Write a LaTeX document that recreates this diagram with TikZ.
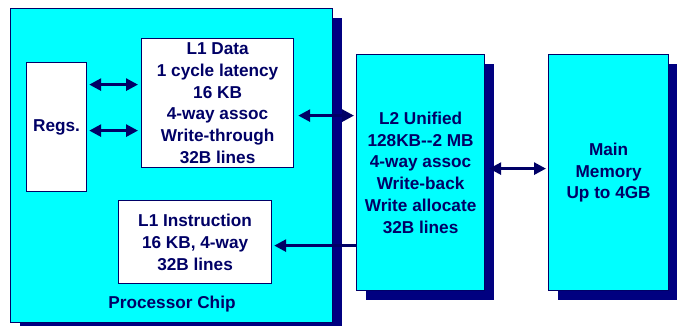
\documentclass[tikz,border=0pt]{standalone}
\usepackage{fontspec}
\setmainfont{Liberation Sans}
\usetikzlibrary{arrows.meta,shadows}
\definecolor{chipcyan}{RGB}{0,255,255}
\definecolor{shadownavy}{RGB}{0,0,128}
\definecolor{inknavy}{RGB}{0,0,102}
\tikzset{
  boxbase/.style={draw=inknavy, line width=1.2pt, anchor=north west, inner sep=0pt,
    align=center, text=inknavy, font=\fontsize{17.2}{21.8}\selectfont\bfseries},
  whitebox/.style={boxbase, fill=white},
  cyanbox/.style={boxbase, fill=chipcyan,
    general shadow={shadow xshift=9pt, shadow yshift=-9pt, fill=shadownavy}},
  dbl/.style={{Triangle[length=12pt,width=12pt]}-{Triangle[length=12pt,width=12pt]}, line width=2.8pt, draw=inknavy},
  sgl/.style={-{Triangle[length=12pt,width=12pt]}, line width=2.8pt, draw=inknavy},
  lbl/.style={text=inknavy, font=\fontsize{17.2}{21.8}\selectfont\bfseries}
}
\begin{document}
\begin{tikzpicture}[x=1pt,y=-1pt]
\useasboundingbox (0,0) rectangle (677,326);
\node[cyanbox, minimum width=322pt, minimum height=314pt] (chip) at (10,8) {};
\node[whitebox, minimum width=60pt, minimum height=129pt] (regs) at (26,62) {Regs.};
\node[whitebox, minimum width=152pt, minimum height=129pt] (l1d) at (141,38) {L1 Data\\1 cycle latency\\16 KB\\4-way assoc\\Write-through\\32B lines};
\node[whitebox, minimum width=153pt, minimum height=83pt] (l1i) at (118,200) {L1 Instruction\\16 KB, 4-way\\32B lines};
\node[lbl] (chiplbl) at (172,304) {Processor Chip};
\node[cyanbox, minimum width=128pt, minimum height=236pt] (l2) at (356,54) {L2 Unified\\128KB{-}{-}2 MB\\4-way assoc\\Write-back\\Write allocate\\32B lines};
\node[cyanbox, minimum width=120pt, minimum height=236pt] (mem) at (548,54) {Main\\Memory\\Up to 4GB};
\draw[dbl, shorten <=2pt, shorten >=3pt] ([yshift=42.5pt]regs.east) -- ([yshift=42.5pt]regs.east -| l1d.west);
\draw[dbl, shorten <=2pt, shorten >=3pt] ([yshift=-3.5pt]regs.east) -- ([yshift=-3.5pt]regs.east -| l1d.west);
\draw[dbl, shorten <=4pt, shorten >=2pt] ([yshift=-12.5pt]l1d.east) -- ([yshift=-12.5pt]l1d.east -| l2.west);
\draw[sgl, shorten >=2pt] ([yshift=-3.5pt]l2.west |- l1i.east) -- ([yshift=-3.5pt]l1i.east);
\draw[dbl, shorten <=4pt, shorten >=2pt] ([yshift=4pt]l2.east) -- ([yshift=4pt]mem.west);
\end{tikzpicture}
\end{document}
